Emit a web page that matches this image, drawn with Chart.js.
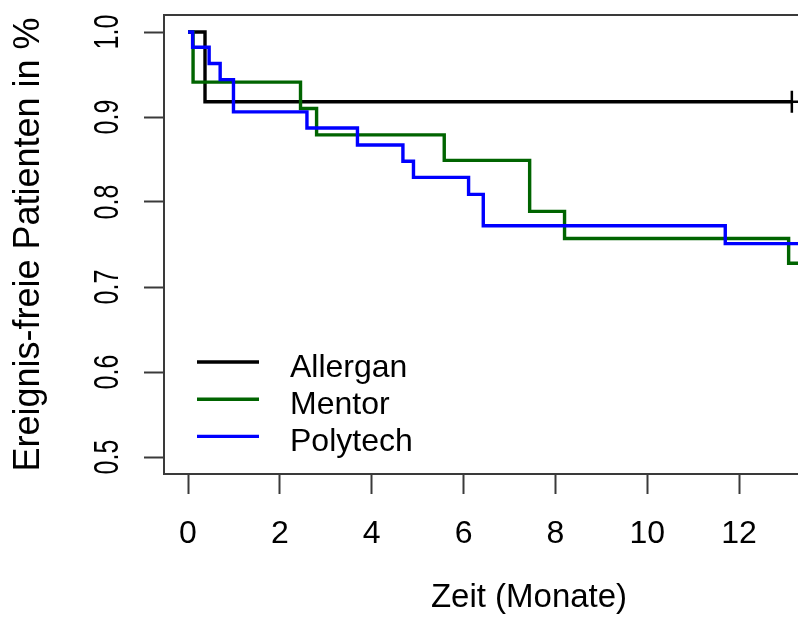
<!DOCTYPE html>
<html>
<head>
<meta charset="utf-8">
<script src="https://cdn.jsdelivr.net/npm/chart.js@4.4.0/dist/chart.umd.min.js"></script>
<style>
  html, body { margin: 0; padding: 0; background: #fff; overflow: hidden; }
  #km { display: block; }
</style>
</head>
<body>
<canvas id="km" width="798" height="617"></canvas>
<script>
// Kaplan-Meier steps, values (time in months, survival fraction)
const allerganTime = [0, 0.37, 13.15];
const allerganSurv = [1.0, 0.918, 0.918];
const allerganCensor = [13.15];

const mentorTime = [0, 0.11, 2.45, 2.80, 5.58, 7.44, 8.20, 13.08, 13.7];
const mentorSurv = [1.0, 0.941, 0.910, 0.879, 0.849, 0.789, 0.757, 0.728, 0.728];

const polytechTime = [0, 0.10, 0.46, 0.70, 0.99, 2.59, 3.69, 4.68, 4.91, 6.11, 6.43, 11.70, 13.7];
const polytechSurv = [1.0, 0.982, 0.963, 0.944, 0.906, 0.887, 0.867, 0.848, 0.829, 0.809, 0.772, 0.751, 0.751];

const groups = ["Allergan", "Mentor", "Polytech"];
const colors = ["#000000", "#006400", "#0000ff"];

const xTicks = [0, 2, 4, 6, 8, 10, 12];
const yTicks = [0.5, 0.6, 0.7, 0.8, 0.9, 1.0];
const yTickLabels = ["0.5", "0.6", "0.7", "0.8", "0.9", "1.0"];
const xTitle = "Zeit (Monate)";
const yTitle = "Ereignis-freie Patienten in %";

const FONT = "'Liberation Sans', Arial, sans-serif";
const AXIS = "#3a3a3a";

const pts = (ts, ss) => ts.map((t, i) => ({ x: t, y: ss[i] }));

function stepSet(label, color, data, order) {
  return {
    label, data, order,
    borderColor: color,
    borderWidth: 3.4,
    stepped: true,
    pointRadius: 0,
    fill: false
  };
}

// top edge of R's box(); the right edge is off the picture
const frame = {
  id: "frame",
  afterDraw(chart) {
    const { ctx, chartArea: a } = chart;
    ctx.save();
    ctx.strokeStyle = AXIS;
    ctx.lineWidth = 2;
    ctx.beginPath();
    ctx.moveTo(a.left, a.top);
    ctx.lineTo(a.right, a.top);
    ctx.stroke();
    ctx.restore();
  }
};

// rotated y tick labels, drawn a bit wider like the original
const yLabels = {
  id: "yLabels",
  afterDraw(chart) {
    const { ctx } = chart;
    const ys = chart.scales.y;
    ctx.save();
    ctx.fillStyle = "#000";
    ctx.font = "25px " + FONT;
    ctx.textAlign = "center";
    ctx.textBaseline = "alphabetic";
    yTicks.forEach((v, i) => {
      ctx.save();
      ctx.translate(118, ys.getPixelForValue(v));
      ctx.rotate(-Math.PI / 2);
      ctx.scale(1, 1.4);
      ctx.fillText(yTickLabels[i], 0, 0);
      ctx.restore();
    });
    ctx.restore();
  }
};

// legend in the lower left of the plot, plus the x title
const legendBox = {
  id: "legendBox",
  afterDraw(chart) {
    const { ctx } = chart;
    ctx.save();
    ctx.font = "32px " + FONT;
    ctx.textBaseline = "alphabetic";
    ctx.textAlign = "left";
    groups.forEach((g, i) => {
      const y = 362 + i * 37.2;
      ctx.strokeStyle = colors[i];
      ctx.lineWidth = 3.4;
      ctx.beginPath();
      ctx.moveTo(197, y);
      ctx.lineTo(259, y);
      ctx.stroke();
      ctx.fillStyle = "#000";
      ctx.fillText(g, 290, y + 14.5);
    });
    ctx.font = "33px " + FONT;
    ctx.textAlign = "center";
    ctx.fillText(xTitle, 529, 607);
    ctx.restore();
  }
};

function noPad(s) {
  s.paddingLeft = 0; s.paddingRight = 0; s.paddingTop = 0; s.paddingBottom = 0;
}

new Chart(document.getElementById("km"), {
  type: "line",
  data: {
    datasets: [
      stepSet(groups[0], colors[0], pts(allerganTime, allerganSurv), 3),
      stepSet(groups[1], colors[1], pts(mentorTime, mentorSurv), 2),
      stepSet(groups[2], colors[2], pts(polytechTime, polytechSurv), 1),
      {
        label: "censored",
        data: allerganCensor.map(t => ({ x: t, y: allerganSurv[allerganSurv.length - 1] })),
        showLine: false,
        pointStyle: "cross",
        pointRadius: 11,
        pointBorderWidth: 2.5,
        pointBorderColor: "#000",
        order: 0
      }
    ]
  },
  options: {
    responsive: false,
    animation: false,
    devicePixelRatio: 1,
    layout: { autoPadding: false, padding: { left: 0, top: 15, right: 0, bottom: 0 } },
    plugins: { legend: { display: false }, tooltip: { enabled: false } },
    scales: {
      x: {
        type: "linear",
        min: -0.523,
        max: 13.284,
        afterBuildTicks: s => { s.ticks = xTicks.map(v => ({ value: v })); },
        afterFit: s => { s.height = 143; noPad(s); },
        grid: { drawOnChartArea: false, drawTicks: true, tickLength: 20, tickColor: AXIS, tickWidth: 2 },
        border: { display: true, color: AXIS, width: 2 },
        ticks: {
          color: "#000",
          font: { family: FONT, size: 32 },
          padding: 21,
          maxRotation: 0,
          autoSkip: false,
          callback: v => String(v)
        }
      },
      y: {
        type: "linear",
        min: 0.48,
        max: 1.02,
        afterBuildTicks: s => { s.ticks = yTicks.map(v => ({ value: v })); },
        afterFit: s => { s.width = 164; noPad(s); },
        grid: { drawOnChartArea: false, drawTicks: true, tickLength: 20, tickColor: AXIS, tickWidth: 2 },
        border: { display: true, color: AXIS, width: 2 },
        ticks: { display: false },
        title: {
          display: true,
          text: yTitle,
          color: "#000",
          font: { family: FONT, size: 36, lineHeight: 1.2 },
          padding: { top: 7, bottom: 0 }
        }
      }
    }
  },
  plugins: [frame, yLabels, legendBox]
});
</script>
</body>
</html>
